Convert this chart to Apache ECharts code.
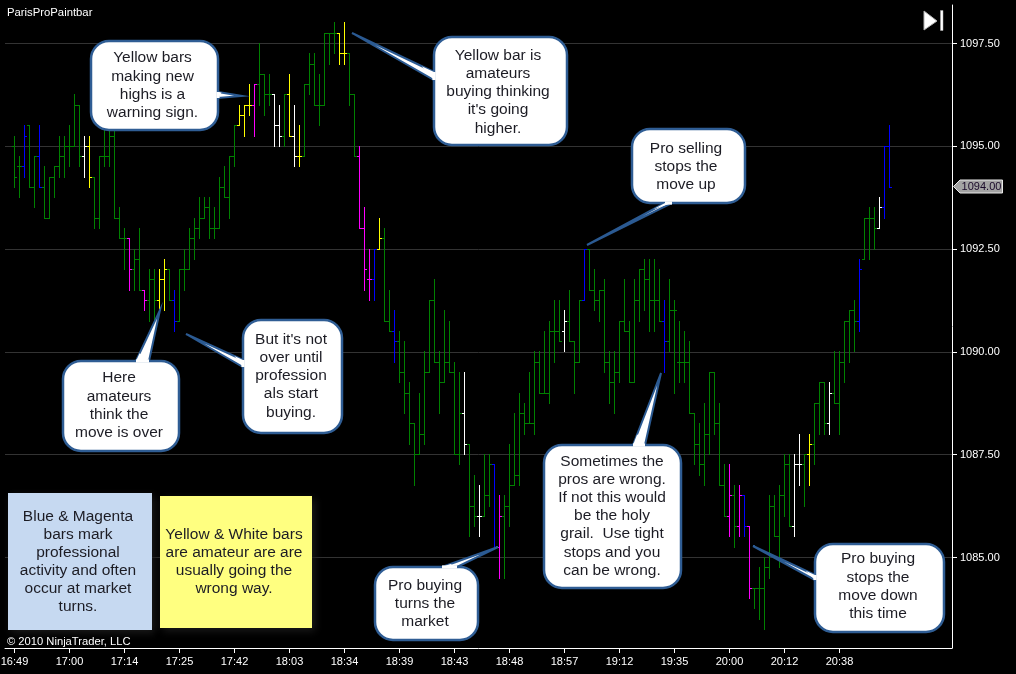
<!DOCTYPE html>
<html><head><meta charset="utf-8">
<style>html,body{margin:0;padding:0;background:#000}#c{width:1016px;height:674px}</style>
<script src="https://cdn.jsdelivr.net/npm/echarts@6/dist/echarts.min.js"></script>
</head><body><div id="c"></div>
<script>
var opens=[
1095,1094.5,1094.5,1095.5,1094,1094.75,1094,1093.25,1094.25,1094.5,
1094.75,1095,1095,1096,1094.75,1095,1094.25,1093.25,1094.75,1094.75,
1095.25,1093.25,1092.75,1092.75,1092,1092.25,1091.5,1091.25,1091.75,1091.25,
1091.75,1092,1091.25,1090.75,1092,1092,1092.75,1093,1093.25,1093.5,
1093,1093,1094,1093.75,1094.75,1095.5,1095.75,1096,1096,1096.5,
1096.75,1096.25,1096.25,1095.5,1095.25,1096.25,1095.25,1094.75,1094.75,1096.5,
1097,1096,1096,1097.75,1097.75,1097.75,1097.25,1097.25,1096.25,1094.75,
1093,1091.75,1091.75,1092.5,1092.75,1090.75,1090.5,1090.25,1089.5,1089,
1088.25,1087.5,1088,1089.5,1091.25,1089.75,1089.25,1089.75,1089.5,1087.5,
1088.5,1087.75,1086.25,1086,1086,1086.5,1087.25,1085.25,1086,1086.25,
1086.75,1087,1088.5,1088.25,1088.25,1089.75,1089,1089,1090.5,1090.5,
1090.5,1090.75,1090.25,1089.75,1091.25,1092.5,1091.5,1091.25,1091.5,1089.75,
1089.25,1089.5,1090.75,1090.5,1089.25,1091.25,1092,1091.75,1091.25,1091.25,
1090.75,1090.25,1091,1089.75,1089.75,1089.75,1088.5,1087.75,1087.25,1088,
1089.5,1088.25,1086.75,1086,1086.5,1085.75,1086.5,1085.75,1084.25,1084.25,
1084.25,1084.75,1086.25,1085.5,1086.5,1087.25,1085.75,1087.25,1087.25,1087.5,
1087.75,1088.75,1089.25,1088.25,1089,1088.75,1089.75,1090.75,1091,1090.75,
1092.25,1093.25,1093.25,1093,1093.5,1095];
var highs=[
1095.25,1094.75,1095.5,1095.5,1094.75,1095.5,1094.5,1094.25,1094.5,1095.25,
1095.25,1095.5,1096.25,1096,1095.25,1095.25,1094.25,1094.75,1095.5,1095.5,
1095.5,1093.5,1093,1092.75,1092.5,1093,1091.5,1092,1092,1092,
1092.25,1092,1091.5,1092,1092.5,1093,1093.25,1093.75,1093.75,1093.75,
1093.5,1094.25,1094.5,1094.75,1095.5,1096,1096,1096.5,1096.5,1097.5,
1096.75,1096.75,1096.25,1096,1096.25,1096.75,1096,1095.5,1096.5,1097.25,
1097.25,1096.75,1097.75,1097.75,1098,1097.75,1098,1097.25,1096.25,1095,
1093.5,1092.5,1092.5,1093.25,1093,1091.5,1091,1090.5,1090.25,1089.25,
1088.25,1089,1090,1091.25,1091.75,1090,1091,1090.75,1089.75,1089.5,
1089.5,1087.75,1087,1086.75,1087.5,1087.5,1087.25,1086.5,1086.5,1087.75,
1088.5,1089,1088.75,1089.5,1090,1090,1090.5,1090.75,1091.25,1091.25,
1091,1091.5,1090.25,1091.25,1092.5,1092.5,1092,1091.5,1091.75,1090,
1090,1090.75,1091.75,1090.75,1091.75,1092,1092.25,1092.25,1092.25,1092,
1091.25,1091.75,1091.25,1090.75,1090.5,1090.25,1088.5,1088.25,1088.75,1089.5,
1089.5,1088.75,1087.25,1087.25,1086.75,1086.75,1086.5,1085.75,1084.25,1084.75,
1085,1086.5,1086.5,1086.75,1087.5,1087.5,1087.5,1088,1087.5,1088,
1088.75,1089.25,1089.25,1089.25,1090,1090,1090.75,1091,1091.25,1092.25,
1093.25,1093.5,1093.5,1093.75,1095,1095.5];
var lows=[
1094,1093.75,1094.25,1094,1093.5,1094,1093.25,1093.25,1093.75,1094.25,
1094.25,1094.5,1095,1094.5,1094.25,1094,1093,1093,1094.5,1094.5,
1093.25,1092.75,1092,1091.5,1091.5,1091.5,1091,1090.75,1090.75,1091,
1091,1091.25,1090.5,1090.75,1091.5,1092,1092.25,1092.75,1093.25,1092.75,
1092.75,1093,1093.75,1093.25,1094.5,1095.5,1095.25,1095.75,1095.25,1096,
1095.75,1096,1095,1095,1095,1095.25,1094.5,1094.5,1094.75,1096.25,
1096,1095.5,1096,1097,1097.25,1097,1097,1096,1094.75,1093,
1091.5,1091.25,1091.25,1092.5,1090.75,1090.5,1089.75,1089.25,1088.5,1087.75,
1086.75,1087.5,1087.75,1089.5,1089.75,1088.5,1089.25,1089.5,1087.5,1087.25,
1087.5,1085.5,1085.75,1085.5,1086,1086.25,1085.25,1084.5,1084.5,1085.75,
1086.75,1086.75,1088,1088.25,1088,1089,1089,1088.75,1089.75,1090.25,
1090,1090.25,1089,1089.75,1091.25,1091.5,1091,1090.75,1089.5,1088.75,
1088.5,1089.25,1090.5,1089.25,1089.25,1090.75,1091,1090.5,1090.5,1090.75,
1089.5,1090,1089,1089.25,1089.25,1088.5,1087.25,1087,1086.75,1087.5,
1088,1086.75,1086,1085.5,1085.25,1085.5,1085.5,1084,1083.75,1083.5,
1083.25,1084.5,1085.5,1084.75,1086,1085.75,1085.5,1086.75,1086.25,1086.75,
1087.25,1088,1088,1088,1088.75,1088,1089.25,1089.75,1090,1090.5,
1092.25,1092.25,1092.5,1093,1093.25,1094];
var closes=[
1094.25,1094.5,1095.25,1094,1094.75,1094,1093.25,1094.25,1094.5,1094.75,
1095,1095,1096,1094.75,1095,1094.25,1093.25,1094.75,1094.75,1095.25,
1093.25,1092.75,1092.75,1092,1092.25,1091.5,1091.25,1091.75,1091.25,1091.75,
1092,1091.25,1090.75,1092,1092,1092.75,1093,1093.25,1093.5,1093,
1093,1094,1093.75,1094.75,1095.5,1095.75,1096,1096,1096.5,1096.75,
1096.25,1096.25,1095.5,1095.25,1096.25,1095.25,1094.75,1094.75,1096.5,1097,
1096,1096,1097.75,1097.75,1097.75,1097.25,1097.25,1096.25,1094.75,1093,
1092,1091.75,1092.5,1092.75,1090.75,1090.5,1090.25,1089.5,1089,1088.25,
1087.5,1088,1089.5,1091.25,1089.75,1089.25,1089.75,1089.5,1087.5,1088.5,
1087.75,1086.25,1086,1086,1086.5,1087.25,1085.25,1086,1086.25,1086.75,
1087,1088.5,1088.25,1088.25,1089.75,1089,1089,1090.5,1090.5,1090.25,
1090.75,1090.25,1089.75,1091.25,1092.5,1091.5,1091.25,1091.5,1089.75,1089.25,
1089.5,1090.75,1090.5,1089.25,1091.25,1092,1091.75,1091.25,1091.25,1090.75,
1090.25,1091,1091,1089.75,1089.75,1088.5,1087.75,1087.25,1088,1089.5,
1088.25,1086.75,1086,1086.5,1085.75,1086.5,1085.75,1084.25,1084.25,1084.25,
1084.75,1086.25,1085.5,1086.5,1087.25,1085.75,1087.25,1087.25,1087.5,1087.75,
1088.75,1089.25,1088.25,1089,1088.75,1089.75,1090.75,1091,1090.75,1092,
1093.25,1093.25,1093,1093.5,1095,1094];
var paint=(
"ggbggbgggg"+"ggggwygggg"+"gggmggmggy"+"ygbggggggg"+"gggggyyymg"+
"ggwwgywygg"+"gggggyyggm"+"mmbyggbggg"+"gggggggggg"+"wggwggbmgg"+
"gggggggggg"+"wgggbggggg"+"gggggggggg"+"bggggggggg"+"gggmgmbmgg"+
"ggggggwwgy"+"gggwgggggb"+"gggwbb");
var timeLabels=["16:49","17:00","17:14","17:25","17:42","18:03","18:34","18:39","18:43","18:48","18:57","19:12","19:35","20:00","20:12","20:38"];
var labelEvery=11;
var priceTicks=[1085,1087.5,1090,1092.5,1095,1097.5];
var callouts=[
 {t:"Yellow bars\nmaking new\nhighs is a\nwarning sign.",r:[91,41,127,89],c:[152.5,85.5],tail:[[218,92],[242,96],[218,98]]},
 {t:"Yellow bar is\namateurs\nbuying thinking\nit's going\nhigher.",r:[434,37,133,108],c:[498,92],tail:[[434,72],[352,33],[434,80]]},
 {t:"Pro selling\nstops the\nmove up",r:[632,129,113,74],c:[686,167],tail:[[665,203],[587,245],[672,203]]},
 {t:"Here\namateurs\nthink the\nmove is over",r:[63,361,116,90],c:[119,405.5],tail:[[136,361],[160,310],[149,361]]},
 {t:"But it's not\nover until\nprofession\nals start\nbuying.",r:[243,320,99,113],c:[291,376],tail:[[243,360],[186,334],[243,367]]},
 {t:"Sometimes the\npros are wrong.\nIf not this would\nbe the holy\ngrail.  Use tight\nstops and you\ncan be wrong.",r:[544,445,137,143],c:[612,516],tail:[[633,445],[661,373],[645,445]]},
 {t:"Pro buying\nturns the\nmarket",r:[375,567,103,73],c:[425,604],tail:[[442,567],[498,547],[457,567]]},
 {t:"Pro buying\nstops the\nmove down\nthis time",r:[815,544,129,88],c:[878,586.5],tail:[[815,575],[753,546],[815,580]]}
];
var notes=[
 {t:"Blue & Magenta\nbars mark\nprofessional\nactivity and often\noccur at market\nturns.",r:[8,493,144,137],c:[78,561.5],fill:"#c6d9f1"},
 {t:"Yellow & White bars\nare amateur are are\nusually going the\nwrong way.",r:[160,496,152,132],c:[234,562],fill:"#ffff80"}
];
var colorOf={g:"#008000",b:"#0000ff",m:"#ff00ff",y:"#ffff00",w:"#ffffff"};
var barData=opens.map(function(o,i){return [i,o,highs[i],lows[i],closes[i]];});
function seg(x1,y1,x2,y2,col){return {type:"line",shape:{x1:x1,y1:y1,x2:x2,y2:y2},style:{stroke:col,lineWidth:1}};}
function renderBar(params,api){
 var i=api.value(0);var col=colorOf[paint.charAt(i)];
 var x=Math.floor(api.coord([i,1090])[0]+0.001)+0.5;
 function Y(v){return Math.floor(api.coord([i,v])[1])+0.5;}
 return {type:"group",children:[
  seg(x,Y(api.value(2))-0.5,x,Y(api.value(3))+0.5,col),
  seg(x-2.5,Y(api.value(1)),x,Y(api.value(1)),col),
  seg(x,Y(api.value(4)),x+2.5,Y(api.value(4)),col)
 ]};
}
var lastClose=closes[closes.length-1];
function renderTag(params,api){
 var y=Math.round(api.coord([0,api.value(0)])[1])-0.5;
 return {type:"group",children:[
  {type:"polygon",shape:{points:[[953.5,y],[960,y-6.5],[1002.5,y-6.5],[1002.5,y+6.5],[960,y+6.5]]},style:{fill:"#a3a3a3",stroke:"#e8e8e8",lineWidth:1}},
  {type:"text",style:{x:981.5,y:y+0.5,text:api.value(0).toFixed(2),fill:"#1a0a2a",font:'11px "Liberation Sans"',textAlign:"center",textVerticalAlign:"middle"}}
 ]};
}
var g=[];
var FONT='15.5px "Liberation Sans"';
function label(x,y,t,fill,font,align){g.push({type:"text",z:100,silent:true,style:{x:x,y:y,text:t,fill:fill,font:font,textAlign:align||"center",textVerticalAlign:"middle",lineHeight:18.1}});}
notes.forEach(function(n){
 g.push({type:"rect",z:100,silent:true,shape:{x:n.r[0],y:n.r[1],width:n.r[2],height:n.r[3]},style:{fill:n.fill,shadowBlur:8,shadowColor:"rgba(30,30,30,0.9)",shadowOffsetX:3,shadowOffsetY:3}});
 label(n.c[0],n.c[1],n.t,"#1c1c24",FONT);
});
callouts.forEach(function(c){
 var r=c.r,a=c.tail;
 g.push({type:"polygon",z:100,silent:true,shape:{points:a},style:{fill:"#ffffff",stroke:"#2b5a92",lineWidth:2,lineJoin:"miter"}});
 g.push({type:"rect",z:101,silent:true,shape:{x:r[0],y:r[1],width:r[2],height:r[3],r:18},style:{fill:"#ffffff",stroke:"#2f5d94",lineWidth:2.5}});
 g.push({type:"polygon",z:102,silent:true,shape:{points:[a[0],[a[0][0]*0.85+a[1][0]*0.15,a[0][1]*0.85+a[1][1]*0.15],a[2]]},style:{fill:"#ffffff"}});
 g.push({type:"line",z:102,silent:true,shape:{x1:a[0][0],y1:a[0][1],x2:a[2][0],y2:a[2][1]},style:{stroke:"#ffffff",lineWidth:3.2}});
 g.push({type:"text",z:103,silent:true,style:{x:c.c[0],y:c.c[1],text:c.t,fill:"#1c1c24",font:FONT,textAlign:"center",textVerticalAlign:"middle",lineHeight:18.2}});
});
label(7,12.5,"ParisProPaintbar","#ffffff",'11.3px "Liberation Sans"',"left");
label(7,642,"\u00a9 2010 NinjaTrader, LLC","#ffffff",'11.2px "Liberation Sans"',"left");
g.push({type:"polygon",z:100,silent:true,shape:{points:[[924,11],[937,21],[924,30]]},style:{fill:"#ffffff",stroke:"#b0b0b0",lineWidth:1}});
g.push({type:"rect",z:100,silent:true,shape:{x:940.5,y:10.5,width:2.5,height:20},style:{fill:"#ffffff",stroke:"#b0b0b0",lineWidth:0.5}});

var chart=echarts.init(document.getElementById("c"),null,{renderer:"canvas",width:1016,height:674});
var xTicks=timeLabels.map(function(_,k){return k*labelEvery;});
var pxPerBar=5,gridLeft=5,gridRight=952,firstBarPx=14.5;
var xMin=-(firstBarPx-gridLeft)/pxPerBar,xMax=xMin+(gridRight-gridLeft)/pxPerBar;
chart.setOption({
 animation:false,backgroundColor:"#000000",
 grid:{left:gridLeft,top:5,width:gridRight-gridLeft,height:643,containLabel:false,outerBoundsMode:"none"},
 xAxis:{type:"value",min:xMin,max:xMax,position:"bottom",
  axisLine:{onZero:false,lineStyle:{color:"#ffffff",width:1}},
  axisTick:{show:true,length:5,lineStyle:{color:"#ffffff"},customValues:xTicks},
  splitLine:{show:false},
  axisLabel:{color:"#ffffff",fontFamily:"Liberation Sans",fontSize:11,margin:8,customValues:xTicks,showMinLabel:true,showMaxLabel:true,
   formatter:function(v){return timeLabels[Math.round(v/labelEvery)];}}},
 yAxis:{type:"value",position:"right",min:1082.7992,max:1098.4363,scale:true,
  axisLine:{show:true,onZero:false,lineStyle:{color:"#ffffff",width:1}},
  axisTick:{show:true,length:5,lineStyle:{color:"#ffffff"},customValues:priceTicks},
  splitLine:{show:true,lineStyle:{color:"#333333",width:1}},
  axisLabel:{color:"#ffffff",fontFamily:"Liberation Sans",fontSize:11,margin:8,padding:[4,0,0,0],customValues:priceTicks,
   formatter:function(v){return v.toFixed(2);}}},
 series:[
  {type:"custom",name:"ParisProPaintbar",data:barData,renderItem:renderBar,encode:{x:0,y:[1,2,3,4]},clip:true,silent:true,z:3},
  {type:"custom",name:"Last",data:[[lastClose]],renderItem:renderTag,encode:{y:0},clip:false,silent:true,z:5}
 ],
 graphic:{elements:g}
});
</script></body></html>
